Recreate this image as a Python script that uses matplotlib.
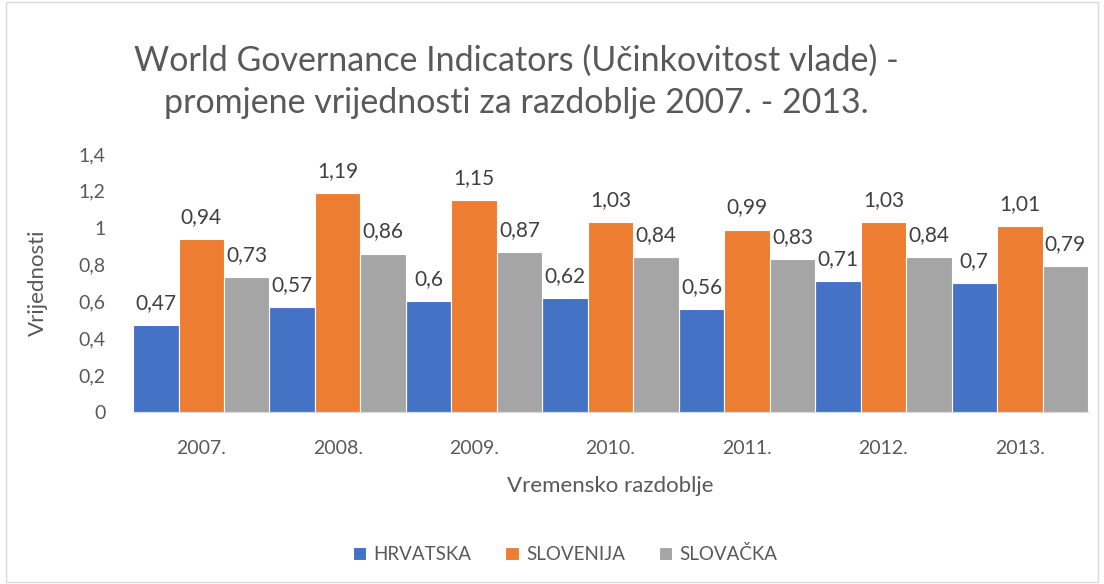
import matplotlib
matplotlib.use("Agg")
import matplotlib.pyplot as plt
import numpy as np
from matplotlib.patches import Rectangle

years = ["2007.", "2008.", "2009.", "2010.", "2011.", "2012.", "2013."]
hrvatska = [0.47, 0.57, 0.60, 0.62, 0.56, 0.71, 0.70]
slovenija = [0.94, 1.19, 1.15, 1.03, 0.99, 1.03, 1.01]
slovacka = [0.73, 0.86, 0.87, 0.84, 0.83, 0.84, 0.79]
series_names = ["HRVATSKA", "SLOVENIJA", "SLOVAČKA"]
colors = ["#4472C4", "#ED7D31", "#A5A5A5"]

plt.rcParams["font.family"] = ["Lato", "DejaVu Sans"]
txt = "#595959"

fig = plt.figure(figsize=(11.04, 5.84), dpi=100)
ax = fig.add_axes([0.1205, 0.2945, 0.865, 0.4418])

x = np.arange(len(years))
w = 1 / 3
for i, (vals, name, c) in enumerate(zip([hrvatska, slovenija, slovacka], series_names, colors)):
    bars = ax.bar(x + (i - 1) * w, vals, w, color=c, label=name,
                  edgecolor="white", linewidth=0.8)
    for b, v in zip(bars, vals):
        lab = f"{v:g}".replace(".", ",")
        ax.text(b.get_x() + b.get_width() / 2, v + 0.065, lab, ha="center", va="bottom",
                fontsize=15, color="#404040")

ax.set_xlim(-0.5, len(years) - 0.5)
ax.set_ylim(0, 1.4)
ax.set_yticks(np.arange(0, 1.41, 0.2))
ax.set_yticklabels([f"{t:g}".replace(".", ",") for t in np.arange(0, 1.41, 0.2)])
ax.set_xticks(x)
ax.set_xticklabels(years)
ax.tick_params(axis="both", length=0, labelsize=14, colors=txt)
ax.tick_params(axis="x", pad=20)
ax.tick_params(axis="y", pad=20)
for s in ["top", "right", "left"]:
    ax.spines[s].set_visible(False)
ax.spines["bottom"].set_color("#d9d9d9")
ax.set_xlabel("Vremensko razdoblje", fontsize=16, color=txt, labelpad=14)
ax.set_ylabel("Vrijednosti", fontsize=16, color=txt, labelpad=22)

fig.text(0.468, 0.86, "World Governance Indicators (Učinkovitost vlade) -\npromjene vrijednosti za razdoblje 2007. - 2013.",
         ha="center", va="center", fontsize=24.5, color=txt, linespacing=1.4)

fig.legend(loc="center", bbox_to_anchor=(0.512, 0.052), ncol=3, frameon=False,
           fontsize=13.5, labelcolor=txt, handlelength=0.7, handleheight=0.7,
           columnspacing=1.8, handletextpad=0.4)

fig.patches.append(Rectangle((0.005, 0.003), 0.99, 0.994, transform=fig.transFigure,
                             fill=False, edgecolor="#d9d9d9", linewidth=1))

fig.savefig("out.png", dpi=100)
